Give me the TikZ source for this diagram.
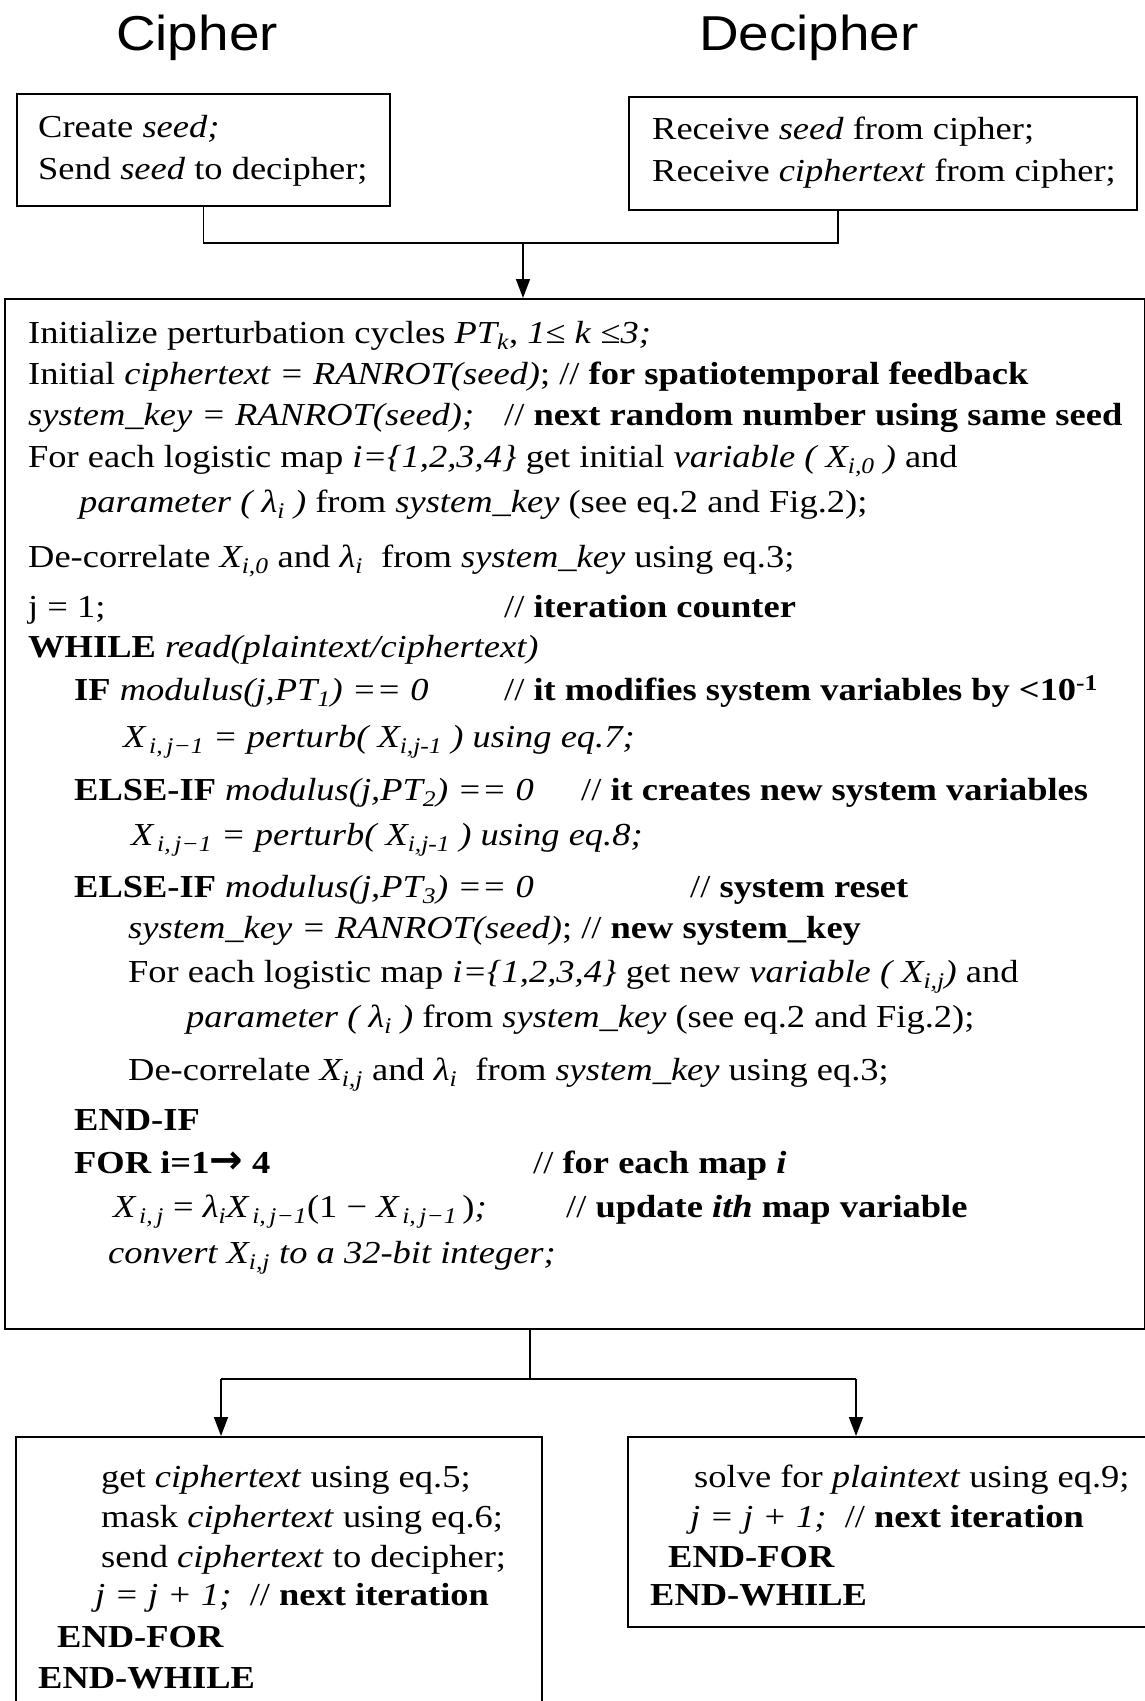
\documentclass[tikz,border=0pt]{standalone}
\usepackage{fontspec}
\setmainfont{Liberation Serif}[FakeStretch=1.14]
\newfontfamily\titlefont{Liberation Sans}[FakeStretch=1.12]
\newfontfamily\arrfont{DejaVu Sans}
\usetikzlibrary{arrows.meta,calc}
\newcommand\sbs[1]{\textsubscript{#1}}
\newcommand\txtsz{\fontsize{32}{40}\selectfont}
\begin{document}
\begin{tikzpicture}[x=1pt,y=-1pt,
  boxst/.style={draw,line width=1.5pt,inner sep=0pt,anchor=north west},
  txt/.style={anchor=base west,inner sep=0pt,font=\txtsz},
  ttl/.style={anchor=base,inner sep=0pt,font=\titlefont\fontsize{49}{55}\selectfont},
  conn/.style={line width=1.5pt},
  arr/.style={line width=1.5pt,-{Triangle[length=19pt,width=14pt]}}]
\fill[white] (0,0) rectangle (1145,1701);
\useasboundingbox (0,0) rectangle (1145,1701);

% titles
\node[ttl] (tc) at (197,50) {Cipher};
\node[ttl] (td) at (809,50) {Decipher};

% boxes
\node[boxst,minimum width=373pt,minimum height=112pt] (cbox) at (16,93) {};
\node[boxst,minimum width=508pt,minimum height=113pt] (dbox) at (628,96) {};
\node[boxst,minimum width=1140pt,minimum height=1030pt] (main) at (4,298) {};
\node[boxst,minimum width=526pt,minimum height=280pt] (lbox) at (15,1436) {};
\node[boxst,minimum width=519pt,minimum height=190pt] (rbox) at (627,1436) {};

% box texts
\node[txt] (c1) at (38,137) {Create \textit{seed;}};
\node[txt] (c2) at (38,179) {Send \textit{seed} to decipher;};
\node[txt] (d1) at (652,139) {Receive \textit{seed} from cipher;};
\node[txt] (d2) at (652,181) {Receive \textit{ciphertext} from cipher;};

% main text
\node[txt] (m1) at (28,343) {Initialize perturbation cycles \textit{PT\sbs{k}}, \textit{1}≤ \textit{k} ≤\textit{3;}};
\node[txt] (m2) at (28,384) {Initial \textit{ciphertext = RANROT(seed)}; // \textbf{for spatiotemporal feedback}};
\node[txt] (m3) at (28,425) {\textit{system\_key = RANROT(seed);}};
\node[txt] (m3c) at (504,425) {// \textbf{next random number using same seed}};
\node[txt] (m4) at (28,467) {For each logistic map \textit{i=\{1,2,3,4\}} get initial \textit{variable ( X\sbs{i,0} )} and};
\node[txt] (m5) at (79,512) {\textit{parameter ( λ\sbs{i} )} from \textit{system\_key} (see eq.2 and Fig.2);};
\node[txt] (m6) at (28,567) {De-correlate \textit{X\sbs{i,0}} and \textit{λ\sbs{i}}\ \ from \textit{system\_key} using eq.3;};
\node[txt] (m7) at (28,617) {j = 1;};
\node[txt] (m7c) at (504,617) {// \textbf{iteration counter}};
\node[txt] (m8) at (28,657) {\textbf{WHILE} \textit{read(plaintext/ciphertext)}};
\node[txt] (m9) at (74,700) {\textbf{IF} \textit{modulus(j,PT\sbs{1}) == 0}};
\node[txt] (m9c) at (504,700) {// \textbf{it modifies system variables by <10\textsuperscript{-1}}};
\node[txt] (m10) at (123,747) {\textit{X\sbs{\,i,\,j−1} = perturb( X\sbs{i,j-1} ) using eq.7;}};
\node[txt] (m11) at (74,800) {\textbf{ELSE-IF} \textit{modulus(j,PT\sbs{2}) == 0}};
\node[txt] (m11c) at (581,800) {// \textbf{it creates new system variables}};
\node[txt] (m12) at (131,845) {\textit{X\sbs{\,i,\,j−1} = perturb( X\sbs{i,j-1} ) using eq.8;}};
\node[txt] (m13) at (74,897) {\textbf{ELSE-IF} \textit{modulus(j,PT\sbs{3}) == 0}};
\node[txt] (m13c) at (690,897) {// \textbf{system reset}};
\node[txt] (m14) at (128,938) {\textit{system\_key = RANROT(seed)}; // \textbf{new system\_key}};
\node[txt] (m15) at (128,982) {For each logistic map \textit{i=\{1,2,3,4\}} get new \textit{variable ( X\sbs{i,j})} and};
\node[txt] (m16) at (186,1027) {\textit{parameter ( λ\sbs{i} )} from \textit{system\_key} (see eq.2 and Fig.2);};
\node[txt] (m17) at (128,1080) {De-correlate \textit{X\sbs{i,j}} and \textit{λ\sbs{i}}\ \ from \textit{system\_key} using eq.3;};
\node[txt] (m18) at (74,1130) {\textbf{END-IF}};
\node[txt] (m19) at (74,1173) {\textbf{FOR i=1}{\arrfont\bfseries\fontsize{40}{40}\selectfont →}\textbf{ 4}};
\node[txt] (m19c) at (533,1173) {// \textbf{for each map \textit{i}}};
\node[txt] (m20) at (113,1217) {\textit{X\sbs{\,i,\,j}} = \textit{λ\sbs{i}X\sbs{\,i,\,j−1}}(1 − \textit{X\sbs{\,i,\,j−1}}\,)\textit{;}};
\node[txt] (m20c) at (566,1217) {// \textbf{update \textit{ith} map variable}};
\node[txt] (m21) at (108,1263) {\textit{convert X\sbs{i,j} to a 32-bit integer;}};

% bottom left
\node[txt] (l1) at (101,1487) {get \textit{ciphertext} using eq.5;};
\node[txt] (l2) at (101,1527) {mask \textit{ciphertext} using eq.6;};
\node[txt] (l3) at (101,1567) {send \textit{ciphertext} to decipher;};
\node[txt] (l4) at (95,1605) {\textit{j = j + 1;}\ \ // \textbf{next iteration}};
\node[txt] (l5) at (57,1647) {\textbf{END-FOR}};
\node[txt] (l6) at (38,1688) {\textbf{END-WHILE}};

% bottom right
\node[txt] (r1) at (694,1487) {solve for \textit{plaintext} using eq.9;};
\node[txt] (r2) at (690,1527) {\textit{j = j + 1;}\ \ // \textbf{next iteration}};
\node[txt] (r3) at (668,1567) {\textbf{END-FOR}};
\node[txt] (r4) at (650,1605) {\textbf{END-WHILE}};

% connectors
\coordinate (join) at (523,243);
\coordinate (dtap) at (838,209);
\draw[conn] (cbox.south) |- (join) -| (dtap);
\draw[arr] (join) -- (main.north -| join);
\coordinate (split) at (530,1379);
\coordinate (la) at (221,1379);
\coordinate (ra) at (856,1379);
\draw[conn] (main.south -| split) -- (split);
\draw[conn] (la) -- (ra);
\draw[arr] (la) -- (lbox.north -| la);
\draw[arr] (ra) -- (rbox.north -| ra);
\end{tikzpicture}
\end{document}
